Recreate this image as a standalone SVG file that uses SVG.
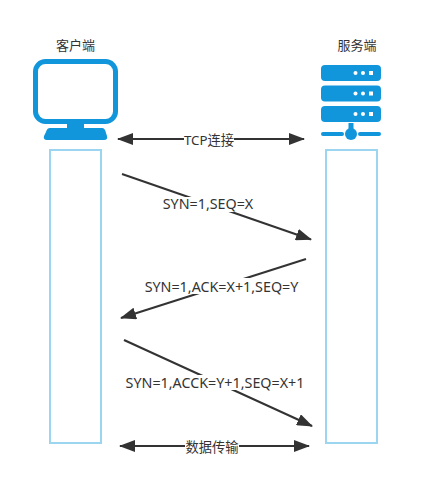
<svg xmlns="http://www.w3.org/2000/svg" width="430" height="493" viewBox="0 0 430 493">
<style>
text{font-family:"Noto Sans","Noto Sans CJK SC",sans-serif;font-size:14.300px;fill:#333;text-anchor:middle}
text.t{font-size:13px}
text.m{font-size:13.300px}
.life{fill:#fff;stroke:#9bd5f0;stroke-width:2}
.blue{fill:#1296db}
.c{fill:none;stroke:#333;stroke-width:2}
.bg{fill:#fff}
</style>
<defs>
<marker id="a" viewBox="0 0 16 12" refX="15" refY="6" markerWidth="16" markerHeight="12" markerUnits="userSpaceOnUse" orient="auto-start-reverse"><path d="M0 0L16 6L0 12Z" fill="#333"/></marker>
</defs>
<rect width="430" height="493" fill="#fff"/>
<g id="client">
<text class="t" x="75.500" y="50">客户端</text>
<rect x="35.500" y="61.500" width="80" height="60" rx="10" fill="#fff" stroke="#1296db" stroke-width="5"/>
<path class="blue" d="M67 123H84V128H102Q105 128 106 133L107 136Q108 140 104 140H47Q43 140 44 136L46 132Q47 128 50 128H67Z"/>
</g>
<g id="server">
<text class="t" x="357" y="50">服务端</text>
<rect class="blue" x="321" y="65" width="60" height="16" rx="4"/>
<rect class="blue" x="321" y="85.500" width="60" height="16" rx="4"/>
<rect class="blue" x="321" y="106" width="60" height="16" rx="4"/>
<g fill="#fff">
<circle cx="355.500" cy="73" r="2"/><circle cx="363" cy="73" r="2"/><rect x="369" y="71" width="4" height="4"/>
<circle cx="355.500" cy="93.500" r="2"/><circle cx="363" cy="93.500" r="2"/><rect x="369" y="91.500" width="4" height="4"/>
<circle cx="355.500" cy="114" r="2"/><circle cx="363" cy="114" r="2"/><rect x="369" y="112" width="4" height="4"/>
</g>
<rect class="blue" x="348.500" y="123" width="5" height="6"/>
<circle class="blue" cx="351" cy="134" r="6"/>
<rect class="blue" x="321" y="132" width="23" height="4" rx="2"/>
<rect class="blue" x="358" y="132" width="23" height="4" rx="2"/>
</g>
<g id="client-lifeline"><rect class="life" x="50" y="150" width="51" height="293"/></g>
<g id="server-lifeline"><rect class="life" x="326" y="150" width="51" height="293"/></g>
<g id="connectors">
<path class="c" d="M118 139H304" marker-start="url(#a)" marker-end="url(#a)"/>
<path class="c" d="M122 174L311 239.500" marker-end="url(#a)"/>
<path class="c" d="M306 259L121 318" marker-end="url(#a)"/>
<path class="c" d="M124 340L312 426" marker-end="url(#a)"/>
<path class="c" d="M120 446H309" marker-start="url(#a)" marker-end="url(#a)"/>
</g>
<g id="labels">
<rect class="bg" x="184" y="132" width="50" height="14"/><text class="m" x="209" y="145">TCP连接</text>
<rect class="bg" x="162" y="197" width="92" height="15"/><text x="208" y="209">SYN=1,SEQ=X</text>
<rect class="bg" x="143" y="278" width="157" height="16"/><text x="221.500" y="292">SYN=1,ACK=X+1,SEQ=Y</text>
<rect class="bg" x="125" y="375" width="180" height="15"/><text x="215" y="388">SYN=1,ACCK=Y+1,SEQ=X+1</text>
<rect class="bg" x="185" y="439" width="54" height="15"/><text class="m" x="212" y="452">数据传输</text>
</g>
</svg>
